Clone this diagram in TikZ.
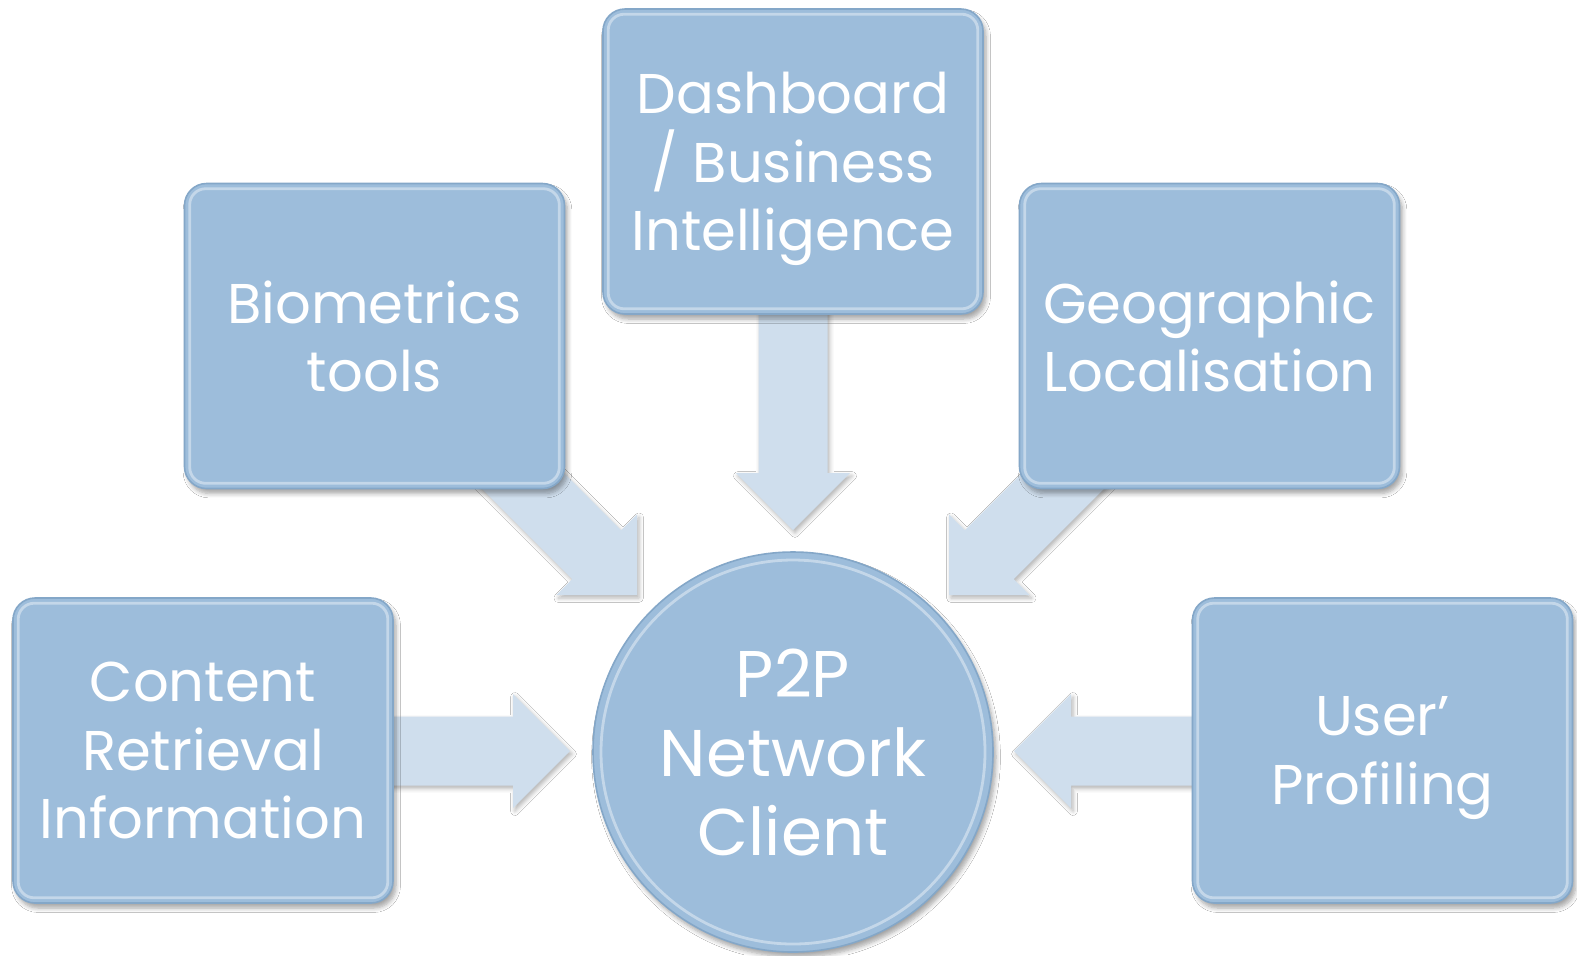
\documentclass[tikz,border=0pt]{standalone}
\usepackage{fontspec}
\setmainfont{Poppins}
\usetikzlibrary{shadows.blur}
\definecolor{boxfill}{HTML}{9DBDDB}
\definecolor{boxedge}{HTML}{84A7C8}
\definecolor{arrowfill}{HTML}{CFDEED}
\newcommand\blockarrow[3]{% #1 tip coordinate, #2 angle, #3 total length (px)
  \fill[arrowstyle, shift={(#1)}, rotate=#2]
    (0,0) -- (-57,57) -- (-57,34.5) -- (-#3,34.5) -- (-#3,-34.5)
    -- (-57,-34.5) -- (-57,-57) -- cycle;}
\begin{document}
\begin{tikzpicture}[x=0.5pt,y=-0.5pt,
  box/.style={rounded corners=11pt, fill=boxfill, draw=boxedge, line width=0.8pt,
    minimum width=190pt, minimum height=152.5pt, inner sep=0pt, text depth=0pt,
    text=white, align=center, font=\fontsize{28}{34.2}\selectfont,
    blur shadow={shadow xshift=1.5pt, shadow yshift=-2.5pt, shadow blur steps=6, shadow opacity=35}},
  hub/.style={circle, fill=boxfill, draw=boxedge, line width=0.8pt,
    minimum size=200pt, inner sep=0pt,
    text=white, align=center, font=\fontsize{33}{39.5}\selectfont,
    blur shadow={shadow xshift=1.5pt, shadow yshift=-2.5pt, shadow blur steps=6, shadow opacity=35}},
  hl/.style={draw=white, draw opacity=0.4, line width=1.4pt},
  arrowstyle/.style={fill=arrowfill,
    blur shadow={shadow xshift=1pt, shadow yshift=-1.5pt, shadow blur steps=4, shadow opacity=30}}
]
\path[use as bounding box, fill=white] (0,0) rectangle (1577,955);

% arrow tips
\coordinate (tipL)  at (570,751);
\coordinate (tipR)  at (1014,751);
\coordinate (tipT)  at (793,530);
\coordinate (tipDL) at (637,595);
\coordinate (tipDR) at (949,595);

\blockarrow{tipL}{0}{185}
\blockarrow{tipR}{180}{185}
\blockarrow{tipT}{-90}{225}
\blockarrow{tipDL}{-45}{195}
\blockarrow{tipDR}{-135}{195}

% boxes
\node[box] (cri)  at (203,750.5)  {Content\\Retrieval\\Information};
\node[box] (bio)  at (374.5,336)  {Biometrics\\tools};
\node[box] (dash) at (793,161.5)  {Dashboard\\/ Business\\Intelligence};
\node[box] (geo)  at (1209.5,336) {Geographic\\Localisation};
\node[box] (usr)  at (1382.5,750.5) {User’\\Profiling};
\node[hub] (p2p)  at (793,752) {P2P\\Network\\Client};

\foreach \n in {cri,bio,dash,geo,usr}
  \draw[hl, rounded corners=8pt] ([shift={(6,6)}]\n.north west) rectangle ([shift={(-6,-6)}]\n.south east);
\draw[hl] (p2p.center) circle[radius=192];
\end{tikzpicture}
\end{document}
